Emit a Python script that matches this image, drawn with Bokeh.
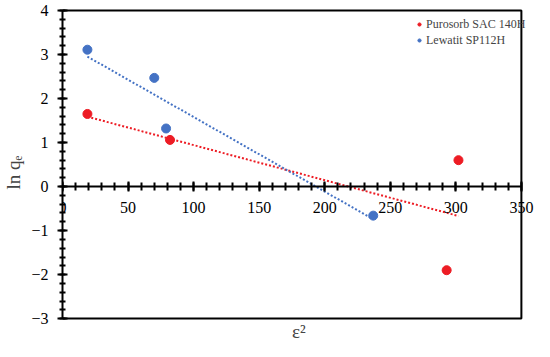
import numpy as np
from bokeh.plotting import figure
from bokeh.models import Range1d, FixedTicker, Label, Legend, LegendItem
from bokeh.embed import file_html
from bokeh.resources import INLINE

# data
puro_x = [19, 82, 302, 293]
puro_y = [1.65, 1.06, 0.60, -1.90]
lew_x = [19, 70, 79, 237]
lew_y = [3.11, 2.47, 1.32, -0.66]
series_names = ["Purosorb SAC 140H", "Lewatit SP112H"]
x_ticks = [0, 50, 100, 150, 200, 250, 300, 350]
y_ticks = [-3, -2, -1, 0, 1, 2, 3, 4]
x_max = 350
y_min, y_max = -3, 4

RED = "#ED1C24"
BLUE = "#4472C4"
FONT = "Times"

p = figure(width=534, height=341, output_backend="svg", toolbar_location=None,
           x_range=Range1d(0, 360), y_range=Range1d(-3.52, 4.16),
           min_border_left=57, min_border_right=0, min_border_top=3, min_border_bottom=0)
p.grid.visible = False
p.outline_line_color = None
p.background_fill_color = "white"
p.border_fill_color = "white"

# plot box (top, right, bottom)
p.line([0, x_max, x_max, 0], [y_max, y_max, y_min, y_min], line_color="black", line_width=2)

# trendlines (least squares)
def trend(xs, ys):
    k, b = np.polyfit(xs, ys, 1)
    x0, x1 = min(xs), max(xs)
    return [x0, x1], [k * x0 + b, k * x1 + b]

tx, ty = trend(puro_x, puro_y)
p.line(tx, ty, line_color=RED, line_width=2, line_dash="2 2")
tx, ty = trend(lew_x, lew_y)
p.line(tx, ty, line_color=BLUE, line_width=2, line_dash="2 2")

r1 = p.scatter(puro_x, puro_y, size=9, color=RED)
r2 = p.scatter(lew_x, lew_y, size=9, color=BLUE)

# x axis at y = 0
xa = p.xaxis[0]
xa.fixed_location = 0
xa.bounds = (0, x_max)
xa.ticker = FixedTicker(ticks=x_ticks, minor_ticks=list(range(0, x_max + 1, 10)))
xa.axis_line_width = 2
xa.major_tick_line_width = 2
xa.minor_tick_line_width = 2
xa.major_tick_in = 5
xa.major_tick_out = 5
xa.minor_tick_in = 4
xa.minor_tick_out = 4
xa.major_label_text_font = FONT
xa.major_label_text_font_size = "16px"
xa.major_label_text_color = "black"
xa.major_label_standoff = 10

ya = p.yaxis[0]
ya.bounds = (y_min, y_max)
ya.ticker = FixedTicker(ticks=y_ticks, minor_ticks=[v / 5 for v in range(-15, 21)])
ya.major_label_overrides = {v: (str(v) if v >= 0 else "\u2212" + str(-v)) for v in y_ticks}
ya.axis_line_width = 2
ya.major_tick_line_width = 2
ya.minor_tick_line_width = 2
ya.major_tick_in = 5
ya.major_tick_out = 5
ya.minor_tick_in = 3
ya.minor_tick_out = 3
ya.major_label_text_font = FONT
ya.major_label_text_font_size = "16px"
ya.major_label_text_color = "black"
ya.major_label_standoff = 9
ya.axis_label = "ln q\u2091"
ya.axis_label_text_font = FONT
ya.axis_label_text_font_style = "normal"
ya.axis_label_text_font_size = "19px"
ya.axis_label_standoff = 4

p.add_layout(Label(x=x_max / 2, y=y_min, x_offset=7, y_offset=-13, text="\u03b5\u00b2",
                   text_align="center", text_baseline="alphabetic",
                   text_font=FONT, text_font_size="19px"))

legend = Legend(items=[LegendItem(label=series_names[0], renderers=[r1]),
                       LegendItem(label=series_names[1], renderers=[r2])],
                location=(353, 293), border_line_color=None,
                background_fill_alpha=0, label_text_font=FONT,
                label_text_font_size="12px", glyph_width=8, glyph_height=10,
                label_standoff=3, spacing=0, padding=0, margin=0,
                label_height=16)
p.add_layout(legend)

open("out.html", "w").write(file_html(p, INLINE))
